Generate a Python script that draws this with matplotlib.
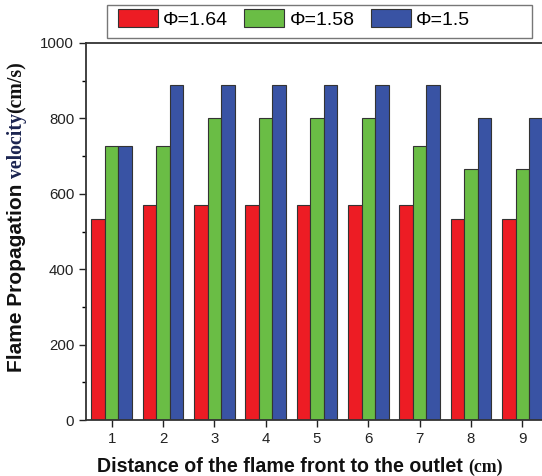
import numpy as np
import matplotlib
matplotlib.use("Agg")
import matplotlib.pyplot as plt
from matplotlib.patches import Rectangle
from matplotlib.ticker import MultipleLocator

positions = [1, 2, 3, 4, 5, 6, 7, 8, 9]
series_labels = ["Φ=1.64", "Φ=1.58", "Φ=1.5"]
phi_164 = [533, 571, 571, 571, 571, 571, 571, 533, 533]
phi_158 = [727, 727, 800, 800, 800, 800, 727, 667, 667]
phi_150 = [727, 889, 889, 889, 889, 889, 889, 800, 800]
colors = ["#ED1C24", "#6ABD45", "#3953A4"]

plt.rcParams["font.family"] = ["Liberation Sans", "DejaVu Sans"]

W, H = 542, 476
fig = plt.figure(figsize=(W / 100, H / 100), dpi=100)
ax = fig.add_axes([86 / W, 56 / H, 462 / W, 377 / H])

x = np.array(positions, dtype=float)
w = 0.265
handles = []
for i, (vals, c, lab) in enumerate(zip([phi_164, phi_158, phi_150], colors, series_labels)):
    b = ax.bar(x + (i - 1) * w, vals, width=w, color=c, edgecolor="#333333",
               linewidth=0.8, label=lab, zorder=2)
    handles.append(b)

ax.set_xlim(0.5, 9.5)
ax.set_ylim(0, 1000)
ax.set_xticks(positions)
ax.yaxis.set_major_locator(MultipleLocator(200))
ax.yaxis.set_minor_locator(MultipleLocator(100))
ax.tick_params(axis="both", which="major", direction="out", length=5, width=1,
               labelsize=10.8, colors="#222222")
ax.tick_params(axis="y", which="minor", direction="out", length=3, width=1)
for s in ax.spines.values():
    s.set_linewidth(1.3)
    s.set_color("#333333")

# legend entries without their own frame; the box is drawn separately
fig.legend(handles=handles, labels=series_labels, loc="center left",
           bbox_to_anchor=(117.6 / W, 1 - 19 / H), ncol=3, fontsize=14,
           frameon=False, borderpad=0, borderaxespad=0,
           handlelength=2.06, handleheight=1.03, handletextpad=0.28,
           columnspacing=0.82)
fig.add_artist(Rectangle((106.6 / W, 1 - 37.5 / H), 425.4 / W, 32.5 / H,
                         transform=fig.transFigure, fill=False,
                         edgecolor="#777777", linewidth=1.0))

fig.canvas.draw()
renderer = fig.canvas.get_renderer()
inv = fig.transFigure.inverted()

# x-axis label: sans-serif text followed by a serif unit
x_parts = [("Distance of the flame front to the outlet ", "Liberation Sans", 14.1, "#111111"),
           ("(cm)", "Liberation Serif", 12.8, "#111111")]
tmp = []
for txt, fam, fs, col in x_parts:
    t = fig.text(0, 0, txt, family=fam, fontsize=fs, fontweight="bold", color=col,
                 va="baseline", ha="left")
    tmp.append(t)
fig.canvas.draw()
widths = [t.get_window_extent(renderer).width for t in tmp]
total = sum(widths)
cur = 299.5 - total / 2
baseline_y = H - 472
for t, wd in zip(tmp, widths):
    t.set_position(inv.transform((cur, baseline_y)))
    cur += wd

# y-axis label: sans-serif words followed by serif parts, rotated
y_parts = [("Flame Propagation ", "Liberation Sans", 15.0, "#111111"),
           ("velocity", "Liberation Serif", 14.2, "#1b2450"),
           ("(cm/s)", "Liberation Serif", 14.2, "#111111")]
tmp = []
for txt, fam, fs, col in y_parts:
    t = fig.text(0, 0, txt, family=fam, fontsize=fs, fontweight="bold", color=col,
                 va="baseline", ha="left", rotation=90, rotation_mode="anchor")
    tmp.append(t)
fig.canvas.draw()
heights = [t.get_window_extent(renderer).height for t in tmp]
total = sum(heights)
cur = (H - 217) - total / 2
base_x = 22
for t, hh in zip(tmp, heights):
    t.set_position(inv.transform((base_x, cur)))
    cur += hh

fig.savefig("out.png", dpi=100)
